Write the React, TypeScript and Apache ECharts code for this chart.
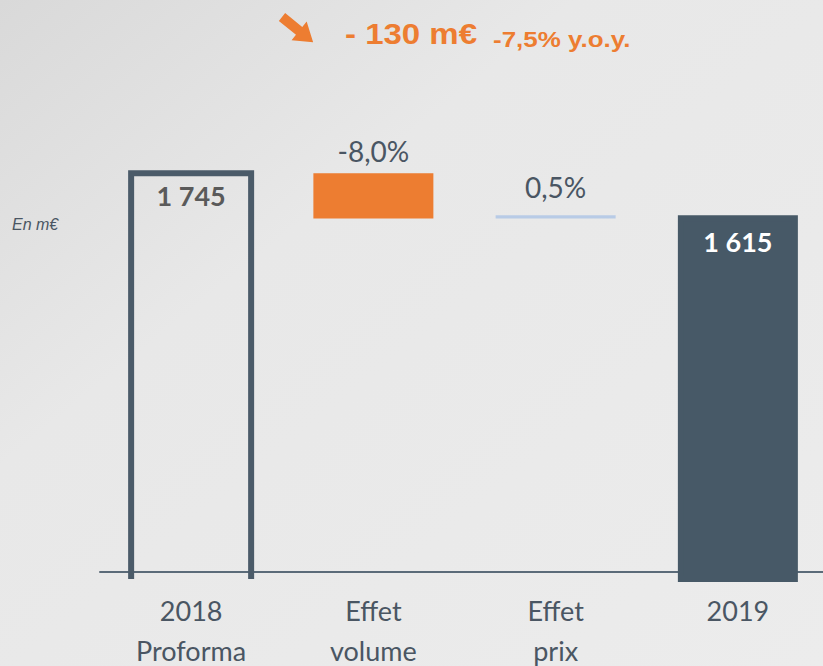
import React, { useEffect, useRef } from "react";
import * as echarts from "echarts";

const categories = ["2018\nProforma", "Effet\nvolume", "Effet\nprix", "2019"];
const openingValues = [1745, null, null, null];
const bridgeBase = [null, 1605, 1605, null];
const volumeEffect = [null, 140, null, null];
const priceEffect = [null, null, 10, null];
const closingValues = [null, null, null, 1615];
const effectLabels = ["", "-8,0%", "0,5%", ""];
const headline = "- 130 m€";
const headlinePct = "-7,5% y.o.y.";
const unitLabel = "En m€";
const yMin = 490;
const yMax = 1910;

const toData = (arr: (number | null)[]) => arr.map((v) => (v == null ? "-" : v));
const fmt = (v: number) => String(v).replace(/\B(?=(\d{3})+(?!\d))/g, " ");

const SLATE = "#4b5b69";
const ORANGE = "#ed7d31";
const TEXT = "#4a5663";

export default function App() {
  const ref = useRef<HTMLDivElement>(null);
  useEffect(() => {
    if (!ref.current) return;
    const chart = echarts.init(ref.current, undefined, { renderer: "svg" });
    const openingData = openingValues
      .map((v, i) => (v == null ? null : [i, v]))
      .filter((d) => d != null);
    chart.setOption({
      animation: false,
      backgroundColor: {
        type: "linear",
        x: 0,
        y: 0,
        x2: 1,
        y2: 1,
        colorStops: [
          { offset: 0, color: "#d9d9d9" },
          { offset: 0.35, color: "#e8e8e8" },
          { offset: 1, color: "#ececec" },
        ],
      },
      grid: {
        left: 100,
        width: 729,
        top: 120,
        bottom: 87,
        containLabel: false,
        outerBoundsMode: "none",
      },
      xAxis: {
        type: "category",
        data: categories,
        offset: -7,
        axisTick: { show: false },
        axisLine: { onZero: false, lineStyle: { color: "#5b6b79", width: 2 } },
        axisLabel: {
          color: TEXT,
          fontFamily: "Lato",
          fontSize: 27,
          lineHeight: 40,
          margin: 18,
          interval: 0,
        },
      },
      yAxis: { type: "value", min: yMin, max: yMax, show: false },
      graphic: [
        {
          type: "polygon",
          x: 282,
          y: 17,
          rotation: -0.68,
          shape: {
            points: [
              [0, -5],
              [22, -5],
              [22, -12],
              [40, 0],
              [22, 12],
              [22, 5],
              [0, 5],
            ],
          },
          style: { fill: ORANGE },
        },
        {
          type: "text",
          x: 345,
          y: 34,
          scaleX: 1.1,
          style: {
            text: headline,
            fill: ORANGE,
            font: "bold 30px 'Liberation Sans', Arial",
            align: "left",
            verticalAlign: "middle",
          },
        },
        {
          type: "text",
          x: 493,
          y: 39,
          scaleX: 1.18,
          style: {
            text: headlinePct,
            fill: ORANGE,
            font: "bold 22px 'Liberation Sans', Arial",
            align: "left",
            verticalAlign: "middle",
          },
        },
        {
          type: "text",
          x: 12,
          y: 224,
          style: {
            text: unitLabel,
            fill: TEXT,
            font: "italic 16px 'Liberation Sans', Arial",
            align: "left",
            verticalAlign: "middle",
          },
        },
      ],
      series: [
        {
          type: "custom",
          name: "2018",
          data: openingData,
          encode: { x: 0, y: 1 },
          silent: true,
          z: 3,
          renderItem: (params: any, api: any) => {
            const idx = api.value(0);
            const v = api.value(1);
            const top = api.coord([idx, v]);
            const bottom = api.coord([idx, yMin]);
            const half = 60;
            return {
              type: "group",
              children: [
                {
                  type: "polyline",
                  shape: {
                    points: [
                      [top[0] - half, bottom[1]],
                      [top[0] - half, top[1]],
                      [top[0] + half, top[1]],
                      [top[0] + half, bottom[1]],
                    ],
                  },
                  style: { stroke: SLATE, lineWidth: 6, fill: "none", lineJoin: "miter" },
                },
                {
                  type: "text",
                  x: top[0],
                  y: top[1] + 22,
                  style: {
                    text: fmt(v),
                    fill: "#5a5a5a",
                    font: "bold 27px Lato",
                    align: "center",
                    verticalAlign: "middle",
                  },
                },
              ],
            };
          },
        },
        {
          type: "bar",
          stack: "w",
          barWidth: 120,
          data: toData(bridgeBase),
          itemStyle: { color: "rgba(0,0,0,0)" },
          silent: true,
        },
        {
          type: "bar",
          stack: "w",
          barWidth: 120,
          data: toData(volumeEffect),
          itemStyle: { color: ORANGE },
          label: {
            show: true,
            position: "top",
            distance: 8,
            color: TEXT,
            fontFamily: "Lato",
            fontSize: 28,
            formatter: (p: any) => effectLabels[p.dataIndex],
          },
          silent: true,
        },
        {
          type: "bar",
          stack: "w",
          barWidth: 120,
          data: toData(priceEffect),
          itemStyle: { color: "#b8cbe6" },
          label: {
            show: true,
            position: "top",
            distance: 14,
            color: TEXT,
            fontFamily: "Lato",
            fontSize: 28,
            formatter: (p: any) => effectLabels[p.dataIndex],
          },
          silent: true,
        },
        {
          type: "bar",
          stack: "w",
          barWidth: 120,
          data: toData(closingValues),
          itemStyle: { color: "#475967", borderColor: "#475967", borderWidth: 6 },
          label: {
            show: true,
            position: "insideTop",
            distance: 13,
            color: "#ffffff",
            fontFamily: "Lato",
            fontWeight: "bold",
            fontSize: 27,
            formatter: (p: any) => fmt(p.value),
          },
          silent: true,
        },
      ],
    });
    return () => chart.dispose();
  }, []);
  return (
    <div
      ref={ref}
      style={{ position: "fixed", left: 0, top: 0, width: 823, height: 666 }}
    />
  );
}
